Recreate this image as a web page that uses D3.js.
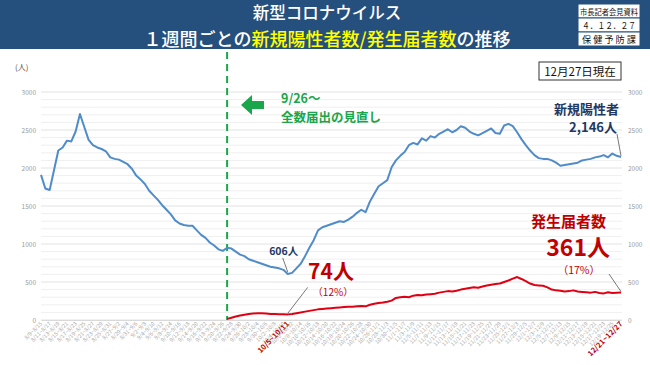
<!DOCTYPE html>
<html><head><meta charset="utf-8">
<script src="https://cdn.jsdelivr.net/npm/d3@7"></script>
<style>
html,body{margin:0;padding:0;background:#fff;}
svg{display:block;font-family:"Noto Sans CJK JP","Noto Sans",sans-serif;}
</style></head>
<body><svg id="c" width="650" height="365"></svg>
<script>
// ---- data ----
const startDate = "2022-08-09";   // first 7-day window start
const nDays = 135;
const positives = [1910,1730,1710,1970,2230,2270,2360,2350,2480,2710,2540,2370,2300,2270,2250,2220,2140,2120,2110,2080,
2050,1990,1900,1850,1790,1700,1640,1580,1510,1450,1390,1310,1270,1250,1240,1240,1180,1120,1080,1020,
980,930,910,950,940,900,860,840,800,780,760,740,720,700,690,680,660,606,620,680,
740,840,950,1050,1180,1220,1240,1260,1280,1300,1290,1320,1360,1410,1450,1420,1560,1660,1760,1800,
1840,2010,2100,2160,2210,2300,2330,2310,2390,2360,2420,2400,2450,2480,2510,2470,2500,2550,2530,2480,
2450,2430,2460,2490,2520,2460,2450,2560,2580,2550,2470,2380,2300,2230,2170,2130,2120,2120,2100,2070,
2030,2040,2050,2060,2070,2100,2110,2120,2140,2150,2170,2140,2190,2160,2146];
const reportsStart = 43;
const reports = [15,30,45,60,70,80,85,90,88,85,80,78,75,76,74,78,90,100,110,120,
130,140,145,150,155,160,165,170,175,175,180,185,180,200,215,225,230,240,255,290,
300,305,300,320,330,325,335,340,345,360,370,380,375,385,400,410,420,430,425,440,
455,465,475,480,500,520,545,565,540,510,480,460,455,450,430,400,390,385,375,380,
390,375,370,365,360,370,355,350,365,355,360,361];
const yTicks = [0,500,1000,1500,2000,2500,3000];
const specialLabels = ["10/5~10/11","12/21~12/27"];

// categories
const fmt = d => (d.getMonth()+1)+"/"+d.getDate();
const d0 = new Date(startDate+"T00:00:00");
const categories = d3.range(nDays).map(i=>{
  const a = d3.timeDay.offset(d0,i), b = d3.timeDay.offset(d0,i+6);
  return fmt(a)+"~"+fmt(b);
});

const svg = d3.select("#c");
const W=650,H=365;
const jp = '"Noto Sans CJK JP","Noto Sans",sans-serif';

// header
svg.append("rect").attr("x",0).attr("y",0).attr("width",W).attr("height",49).attr("fill","#25507e");
svg.append("text").attr("x",327).attr("y",19).attr("text-anchor","middle").attr("fill","#fff")
  .attr("font-size",16.5).attr("font-weight",500).text("新型コロナウイルス");
const t2 = svg.append("text").attr("x",327).attr("y",46).attr("text-anchor","middle")
  .attr("font-size",18).attr("font-weight",500).attr("fill","#fff");
t2.append("tspan").text("１週間ごとの");
t2.append("tspan").attr("fill","#ffff00").text("新規陽性者数/発生届者数");
t2.append("tspan").text("の推移");
// stamp
const sx=578, sy=4, sw=62, sh=14;
["市長記者会見資料","４．１２．２７","保 健 予 防 課"].forEach((s,i)=>{
  svg.append("rect").attr("x",sx).attr("y",sy+i*sh).attr("width",sw).attr("height",sh)
    .attr("fill","#fff").attr("stroke","#25507e").attr("stroke-width",1);
  svg.append("text").attr("x",sx+sw/2).attr("y",sy+i*sh+10.5).attr("text-anchor","middle")
    .attr("font-size",i==0?8:9).attr("fill","#111")
    .attr("textLength",i==0?58:54).attr("lengthAdjust","spacingAndGlyphs").text(s);
});

// scales
const x = d3.scalePoint().domain(categories).range([41,621]);
const y = d3.scaleLinear().domain([0,3000]).range([320,92]);

// grid
svg.append("g").selectAll("line").data(d3.range(0,3001,100)).join("line")
  .attr("x1",41).attr("x2",622).attr("y1",d=>y(d)).attr("y2",d=>y(d))
  .attr("stroke",d=>d%500===0?"#e2e2e2":"#efefef").attr("stroke-width",1);

// y axes
const la = svg.append("g").attr("transform","translate(38,0)")
  .call(d3.axisLeft(y).tickValues(yTicks).tickFormat(d3.format("d")).tickSize(0).tickPadding(2));
const ra = svg.append("g").attr("transform","translate(626,0)")
  .call(d3.axisRight(y).tickValues(yTicks).tickFormat(d3.format("d")).tickSize(0).tickPadding(2));
[la,ra].forEach(g=>{g.select(".domain").remove();
  g.selectAll("text").attr("font-size",6.5).attr("fill","#999").attr("font-family",jp);});
svg.append("text").attr("x",15).attr("y",70).attr("font-size",8).attr("fill","#555").text("(人)");

// x axis
const xa = svg.append("g").attr("transform","translate(0,320)")
  .call(d3.axisBottom(x).tickValues(categories.filter((c,i)=>i%2===0||specialLabels.includes(c))).tickSize(0).tickPadding(2));
xa.select(".domain").attr("stroke","#d9d9d9");
xa.selectAll("text").attr("text-anchor","end").attr("dy","0.3em")
  .attr("transform","rotate(-45)").attr("font-family",jp)
  .attr("font-size",d=>specialLabels.includes(d)?7.5:5.5)
  .attr("font-weight",d=>specialLabels.includes(d)?"bold":"normal")
  .attr("fill",d=>specialLabels.includes(d)?"#c00000":"#aaa")
  .attr("dx",-2);

// green dashed line at 9/26
const gx = x(categories[reportsStart]);
svg.append("line").attr("x1",gx).attr("x2",gx).attr("y1",52).attr("y2",320)
  .attr("stroke","#1aa64a").attr("stroke-width",2).attr("stroke-dasharray","7,5");
// arrow
svg.append("path").attr("d","M241,105 L252,95 L252,101 L264,101 L264,109 L252,109 L252,115 Z").attr("fill","#1aa64a");
svg.append("text").attr("x",281).attr("y",103).attr("font-size",12.5).attr("font-weight","bold").attr("fill","#1aa64a").text("9/26～");
svg.append("text").attr("x",281).attr("y",122).attr("font-size",12.5).attr("font-weight","bold").attr("fill","#1aa64a").text("全数届出の見直し");

// lines
const line = d3.line().x(d=>x(d.c)).y(d=>y(d.v));
const pos = positives.map((v,i)=>({c:categories[i],v}));
const rep = reports.map((v,i)=>({c:categories[reportsStart+i],v}));
svg.append("path").datum(pos).attr("d",line).attr("fill","none").attr("stroke","#4f8cc9").attr("stroke-width",2).attr("stroke-linejoin","round");
svg.append("path").datum(rep).attr("d",line).attr("fill","none").attr("stroke","#e00012").attr("stroke-width",2).attr("stroke-linejoin","round");

// date box
svg.append("rect").attr("x",539).attr("y",62).attr("width",82).attr("height",18).attr("fill","#fff").attr("stroke","#333").attr("stroke-width",1);
svg.append("text").attr("x",580).attr("y",75.5).attr("text-anchor","middle").attr("font-size",11.5).attr("fill","#111").text("12月27日現在");

// annotations
const minI = positives.indexOf(d3.min(positives));
const mx = x(categories[minI]), my = y(positives[minI]);
svg.append("line").attr("x1",mx-5).attr("y1",my-16).attr("x2",mx).attr("y2",my-2).attr("stroke","#555").attr("stroke-width",0.8);
svg.append("text").attr("x",mx-4).attr("y",my-19).attr("text-anchor","middle").attr("font-size",10.5).attr("font-weight","bold").attr("fill","#1f3864").text("606人");

const r74 = reports[minI-reportsStart];
const rx = x(categories[minI]), ry = y(r74);
svg.append("line").attr("x1",rx).attr("y1",ry-1).attr("x2",rx+20).attr("y2",ry-27).attr("stroke","#555").attr("stroke-width",0.8);
svg.append("text").attr("x",331).attr("y",279).attr("text-anchor","middle").attr("font-size",21).attr("font-weight","bold").attr("fill","#c00000").text("74人");
svg.append("text").attr("x",333).attr("y",296).attr("text-anchor","middle").attr("font-size",10).attr("fill","#c00000").text("（12%）");

const lx = x(categories[nDays-1]);
svg.append("line").attr("x1",lx-4).attr("y1",134).attr("x2",lx).attr("y2",y(positives[nDays-1])-1).attr("stroke","#555").attr("stroke-width",0.8);
svg.append("text").attr("x",619).attr("y",114).attr("text-anchor","end").attr("font-size",13).attr("font-weight","bold").attr("fill","#1f3864").text("新規陽性者");
svg.append("text").attr("x",617).attr("y",132).attr("text-anchor","end").attr("font-size",13).attr("font-weight","bold").attr("fill","#1f3864").text("2,146人");

svg.append("line").attr("x1",lx-12).attr("y1",274).attr("x2",lx).attr("y2",y(reports[reports.length-1])-1).attr("stroke","#555").attr("stroke-width",0.8);
svg.append("text").attr("x",606).attr("y",227).attr("text-anchor","end").attr("font-size",15).attr("font-weight","bold").attr("fill","#c00000").text("発生届者数");
svg.append("text").attr("x",610).attr("y",256).attr("text-anchor","end").attr("font-size",23).attr("font-weight","bold").attr("fill","#c00000").text("361人");
svg.append("text").attr("x",600).attr("y",274).attr("text-anchor","end").attr("font-size",10.5).attr("fill","#c00000").text("（17%）");
</script></body></html>
